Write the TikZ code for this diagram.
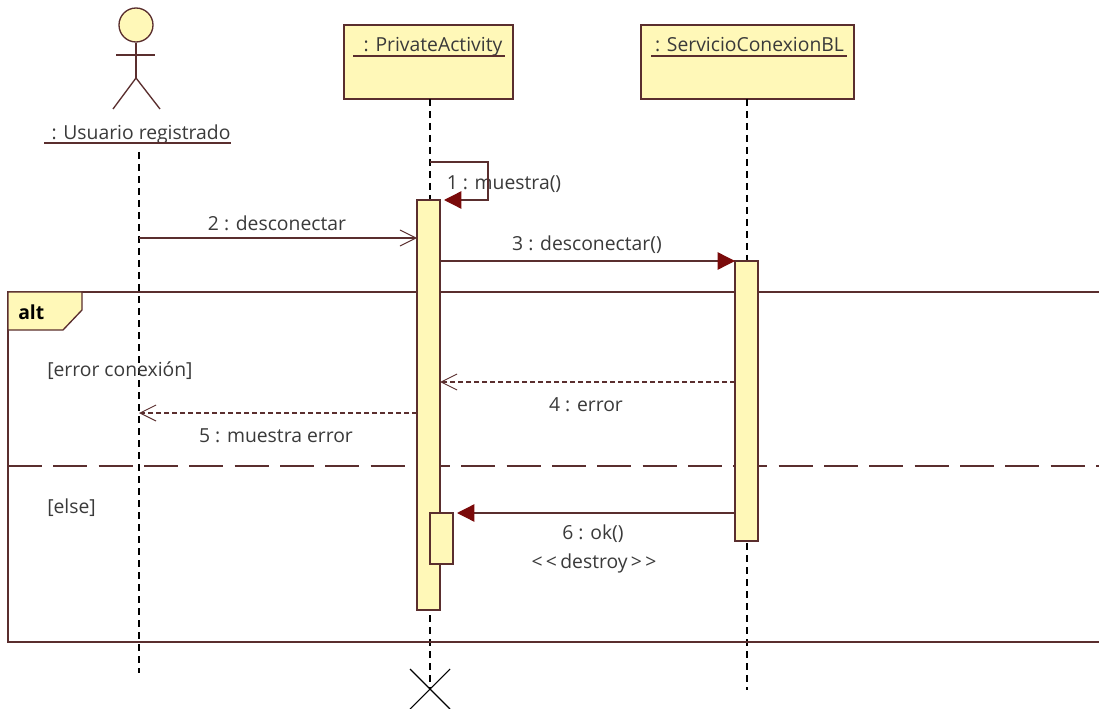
\documentclass[tikz,border=0pt]{standalone}
\usepackage{fontspec}
\setmainfont{Open Sans}
\usetikzlibrary{arrows.meta}
\definecolor{umlline}{HTML}{5A2E2E}
\definecolor{umlfill}{HTML}{FFF8B8}
\definecolor{umlarrow}{HTML}{7A0A0A}
\definecolor{umltext}{HTML}{3A3A3A}
\tikzset{
  x=0.75pt,y=-0.75pt,
  box/.style={draw=umlline,fill=umlfill,line width=1pt,inner sep=0pt,outer sep=0pt},
  activation/.style={box,minimum width=17.25pt},
  lifeline/.style={draw=black,line width=1.1pt,dash pattern=on 5pt off 4pt},
  txt/.style={text=umltext,inner sep=0pt,font=\fontsize{14.5}{17}\selectfont},
  under/.style={draw=umlline,line width=1pt},
  msg/.style={draw=umlline,line width=1pt},
  filled/.style={msg,-{Triangle[length=13pt,width=13pt,color=umlarrow]},shorten >=3pt},
  filledd/.style={msg,-{Triangle[length=13pt,width=13pt,color=umlarrow]}},
  open/.style={msg,-{Straight Barb[length=12pt,width=12pt,line width=.7pt]}},
  openback/.style={open,dash pattern=on 3.5pt off 2.5pt},
  frameline/.style={draw=umlline,line width=1pt},
}
\begin{document}
\begin{tikzpicture}
\useasboundingbox (0,0) rectangle (1099,709);
\fill[white] (0,0) rectangle (1099,709);
% lifeline anchors
\coordinate (uTop) at (139,152);
\coordinate (uEnd) at (139,673);
\coordinate (dX) at (430,689);
\coordinate (sEnd) at (747,690);
% head objects
\node[box,minimum width=126.75pt,minimum height=55.5pt,anchor=north west] (pa) at (344,25) {};
\node[box,minimum width=159.75pt,minimum height=55.5pt,anchor=north west] (sc) at (641,25) {};
\path (430,99) coordinate (paBottom) (747,99) coordinate (scBottom);
% lifelines
\draw[lifeline] (uTop) -- (uEnd);
\draw[lifeline] (paBottom) -- (dX);
\draw[lifeline] (scBottom) -- (sEnd);
% frame
\coordinate (fTL) at (8,292);
\coordinate (fTR) at (1102,292);
\coordinate (fBL) at (8,642);
\coordinate (fBR) at (1102,642);
\draw[frameline] (fTR) -- (fTL) -- (fBL) -- (fBR);
\draw[frameline,fill=umlfill] (fTL) -- (82,292) -- (82,310) -- (63,330) -- (8,330) -- cycle;
\node[txt,font=\fontsize{14.5}{17}\bfseries\selectfont,text=black,anchor=west] (alt) at (18,312) {alt};
\coordinate (sepL) at (8,466);
\coordinate (sepR) at (1102,466);
\draw[frameline,dash pattern=on 25.5pt off 8.5pt] (sepL) -- (sepR);
% activations
\node[activation,minimum height=307.5pt,anchor=north] (a1) at (428.5,200) {};
\node[activation,minimum height=210pt,anchor=north] (a3) at (746.5,261) {};
\node[activation,minimum height=38.25pt,anchor=north west] (a6) at (430,513) {};
% actor
\node[draw=umlline,fill=umlfill,line width=1pt,circle,minimum size=25.5pt,inner sep=0pt] (head) at (136,25) {};
\coordinate (hip) at (136,78);
\draw[under] (head.south) -- (hip);
\coordinate (armL) at (116,55);
\coordinate (armR) at (155,55);
\coordinate (legL) at (113,109);
\coordinate (legR) at (160,109);
\draw[under] (armL) -- (armR);
\draw[under] (legL) -- (hip) -- (legR);
% object labels
\node[txt,anchor=base] (uLabel) at (141,140) {: Usuario registrado};
\draw[under] (44,143) coordinate (u1) -- (231,143) coordinate (u2);
\node[txt,anchor=base] (paLabel) at (433,52) {: PrivateActivity};
\draw[under] (353,56) coordinate (p1) -- (505,56) coordinate (p2);
\node[txt,anchor=base] (scLabel) at (749.5,52) {: ServicioConexionBL};
\draw[under] (651,56) coordinate (s1) -- (847,56) coordinate (s2);
% messages
\node[txt] (l1) at (504,184) {1 : muestra()};
\draw[filled] (430,162) coordinate (m1s) -- (488,162) coordinate (m1a) -- (488,200) coordinate (m1b) -- (a1.north east);
\coordinate (m2s) at (139,238);
\draw[open] (m2s) -- (m2s -| a1.west);
\node[txt] (l2) at (277,223) {2 : desconectar};
\coordinate (m3s) at (a1.east |- a3.north);
\draw[filledd] (m3s) -- (a3.north west);
\node[txt] (l3) at (587,245) {3 : desconectar()};
\coordinate (m4s) at (a3.west |- 0,382);
\draw[openback] (m4s) -- (a1.east |- m4s);
\node[txt] (l4) at (586,405) {4 : error};
\coordinate (m5s) at (a1.west |- 0,413);
\draw[openback] (m5s) -- (139,413) coordinate (m5e);
\node[txt] (l5) at (276,436) {5 : muestra error};
\coordinate (m6s) at (a3.west |- a6.north);
\draw[filled] (m6s) -- (a6.north east);
\node[txt] (l6) at (593,534) {6 : ok()};
\node[txt] (l6b) at (594,563) {<\kern2.5pt<\kern2.5pt destroy\kern2.5pt>\kern2.5pt>};
% guards
\node[txt,anchor=west] (g1) at (47,371) {[error conexión]};
\node[txt,anchor=west] (g2) at (47,508) {[else]};
% destroy mark
\draw[draw=black,line width=.8pt] (410,669) coordinate (x1) -- (450,709) coordinate (x2);
\draw[draw=black,line width=.8pt] (450,669) coordinate (x3) -- (410,709) coordinate (x4);
\end{tikzpicture}
\end{document}
